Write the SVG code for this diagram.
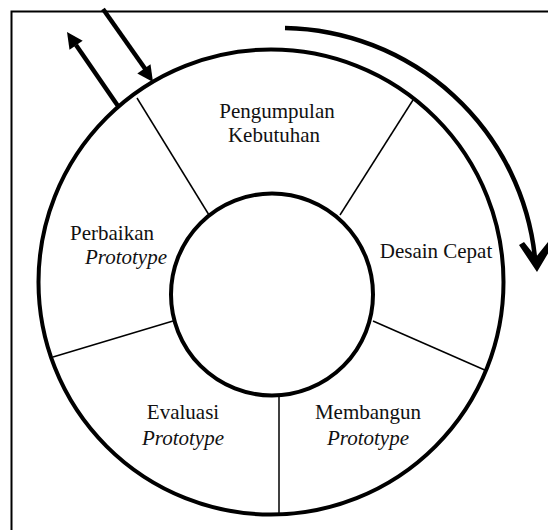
<svg xmlns="http://www.w3.org/2000/svg" width="548" height="530" viewBox="0 0 548 530">
<style>
  .ring{fill:none;stroke:#000;stroke-width:4}
  .div{fill:none;stroke:#000;stroke-width:1.5}
  .lbl{font-family:"Liberation Serif","Times New Roman",serif;font-size:21px;fill:#111;text-anchor:middle}
  .it{font-style:italic}
  .arr{fill:none;stroke:#000;stroke-width:4.5}
</style>
<rect x="0" y="0" width="548" height="530" fill="#fff"/>
<g id="frame"><path d="M11.5,540 V11.5 H560" fill="none" stroke="#000" stroke-width="2"/></g>
<g id="rings">
  <circle class="ring" cx="271" cy="282" r="232.5"/>
  <circle class="ring" cx="272" cy="294.5" r="101"/>
</g>
<g id="connectors">
  <line class="div" x1="137" y1="98" x2="209" y2="215"/>
  <line class="div" x1="413" y1="100" x2="340" y2="215"/>
  <line class="div" x1="53" y1="357" x2="173" y2="321"/>
  <line class="div" x1="373" y1="321" x2="487" y2="371"/>
  <line class="div" x1="279" y1="396" x2="279" y2="513"/>
  <line class="arr" x1="103" y1="9" x2="146" y2="70"/>
  <polygon points="153,82 137.3,73.5 150.5,64.3" fill="#000"/>
  <line class="arr" x1="118" y1="106" x2="76" y2="45"/>
  <polygon points="67,32 82.7,40.7 69.5,49.7" fill="#000"/>
  <path class="arr" d="M285,28 A256 256 0 0 1 535,258" stroke-width="5"/>
  <polygon points="537,272 519,245 524,242 536,257 548,242 553,245" fill="#000"/>
</g>
<g id="node-pengumpulan">
  <text class="lbl" x="277" y="118">Pengumpulan</text>
  <text class="lbl" x="274" y="142">Kebutuhan</text>
</g>
<g id="node-desain">
  <text class="lbl" x="436" y="258">Desain Cepat</text>
</g>
<g id="node-membangun">
  <text class="lbl" x="368" y="419">Membangun</text>
  <text class="lbl it" x="368" y="445">Prototype</text>
</g>
<g id="node-evaluasi">
  <text class="lbl" x="183" y="419">Evaluasi</text>
  <text class="lbl it" x="183" y="445">Prototype</text>
</g>
<g id="node-perbaikan">
  <text class="lbl" x="112" y="240">Perbaikan</text>
  <text class="lbl it" x="126" y="264">Prototype</text>
</g>
</svg>
